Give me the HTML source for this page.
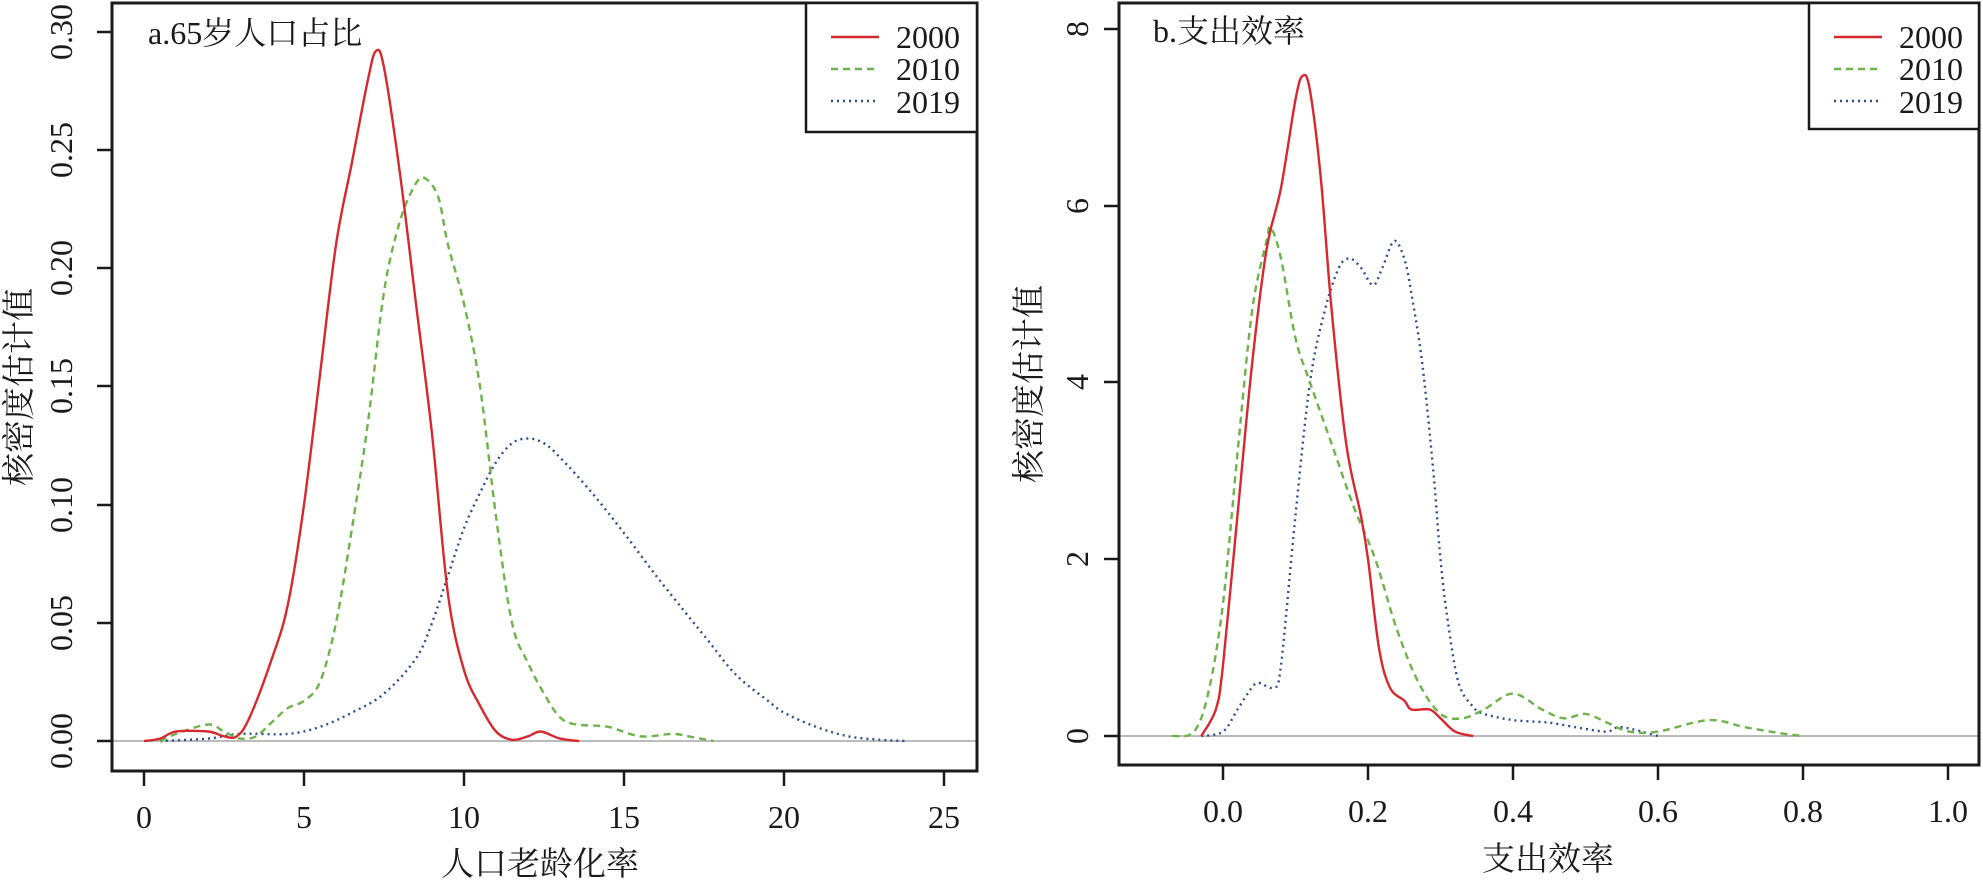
<!DOCTYPE html>
<html><head><meta charset="utf-8"><style>
html,body{margin:0;padding:0;background:#fff;}
svg{display:block;}
text{font-family:"Liberation Serif","Noto Serif CJK SC","Noto Sans CJK SC",serif;fill:#1a1a1a;}
</style></head><body>
<svg id="s" width="1983" height="882" viewBox="0 0 1983 882" xmlns="http://www.w3.org/2000/svg">
<!-- Left panel -->
<line x1="113" y1="741" x2="976" y2="741" stroke="#bbb" stroke-width="2"/>
<g id="L"></g>
<rect x="112" y="3" width="865" height="768" fill="none" stroke="#1a1a1a" stroke-width="3"/>
<rect x="806" y="3" width="171" height="129" fill="#fff" stroke="#1a1a1a" stroke-width="2.5"/>
<line x1="831" y1="37" x2="879" y2="37" stroke="#d7282f" stroke-width="2.4"/>
<line x1="831" y1="69" x2="879" y2="69" stroke="#6db34a" stroke-width="2.4" stroke-dasharray="7,5"/>
<line x1="831" y1="101" x2="879" y2="101" stroke="#2c4f8c" stroke-width="2.4" stroke-dasharray="2,4"/>
<text x="896" y="48" font-size="32">2000</text>
<text x="896" y="80" font-size="32">2010</text>
<text x="896" y="113" font-size="32">2019</text>
<text x="148" y="44" font-size="32">a.65岁人口占比</text>
<g stroke="#1a1a1a" stroke-width="2.5">
<line x1="97" y1="741" x2="112" y2="741"/><line x1="97" y1="623" x2="112" y2="623"/><line x1="97" y1="505" x2="112" y2="505"/><line x1="97" y1="386" x2="112" y2="386"/><line x1="97" y1="268" x2="112" y2="268"/><line x1="97" y1="150" x2="112" y2="150"/><line x1="97" y1="32" x2="112" y2="32"/>
<line x1="144" y1="771" x2="144" y2="786"/><line x1="304" y1="771" x2="304" y2="786"/><line x1="464" y1="771" x2="464" y2="786"/><line x1="624" y1="771" x2="624" y2="786"/><line x1="784" y1="771" x2="784" y2="786"/><line x1="944" y1="771" x2="944" y2="786"/>
</g>
<g font-size="32" text-anchor="middle">
<text transform="translate(72,741) rotate(-90)">0.00</text>
<text transform="translate(72,623) rotate(-90)">0.05</text>
<text transform="translate(72,505) rotate(-90)">0.10</text>
<text transform="translate(72,386) rotate(-90)">0.15</text>
<text transform="translate(72,268) rotate(-90)">0.20</text>
<text transform="translate(72,150) rotate(-90)">0.25</text>
<text transform="translate(72,32) rotate(-90)">0.30</text>
<text x="144" y="828">0</text><text x="304" y="828">5</text><text x="464" y="828">10</text><text x="624" y="828">15</text><text x="784" y="828">20</text><text x="944" y="828">25</text>
</g>
<text x="540" y="875" font-size="33" text-anchor="middle">人口老龄化率</text>
<text transform="translate(30,387) rotate(-90)" font-size="33" text-anchor="middle">核密度估计值</text>

<!-- Right panel -->
<line x1="1120" y1="736" x2="1978" y2="736" stroke="#bbb" stroke-width="2"/>
<g id="R"></g>
<rect x="1119" y="3" width="860" height="762" fill="none" stroke="#1a1a1a" stroke-width="3"/>
<rect x="1809" y="3" width="170" height="126" fill="#fff" stroke="#1a1a1a" stroke-width="2.5"/>
<line x1="1834" y1="37" x2="1882" y2="37" stroke="#d7282f" stroke-width="2.4"/>
<line x1="1834" y1="69" x2="1882" y2="69" stroke="#6db34a" stroke-width="2.4" stroke-dasharray="7,5"/>
<line x1="1834" y1="101" x2="1882" y2="101" stroke="#2c4f8c" stroke-width="2.4" stroke-dasharray="2,4"/>
<text x="1899" y="48" font-size="32">2000</text>
<text x="1899" y="80" font-size="32">2010</text>
<text x="1899" y="113" font-size="32">2019</text>
<text x="1153" y="42" font-size="32">b.支出效率</text>
<g stroke="#1a1a1a" stroke-width="2.5">
<line x1="1104" y1="736" x2="1119" y2="736"/><line x1="1104" y1="559" x2="1119" y2="559"/><line x1="1104" y1="382" x2="1119" y2="382"/><line x1="1104" y1="206" x2="1119" y2="206"/><line x1="1104" y1="29" x2="1119" y2="29"/>
<line x1="1223" y1="765" x2="1223" y2="780"/><line x1="1368" y1="765" x2="1368" y2="780"/><line x1="1513" y1="765" x2="1513" y2="780"/><line x1="1658" y1="765" x2="1658" y2="780"/><line x1="1803" y1="765" x2="1803" y2="780"/><line x1="1948" y1="765" x2="1948" y2="780"/>
</g>
<g font-size="32" text-anchor="middle">
<text transform="translate(1088,736) rotate(-90)">0</text>
<text transform="translate(1088,559) rotate(-90)">2</text>
<text transform="translate(1088,382) rotate(-90)">4</text>
<text transform="translate(1088,206) rotate(-90)">6</text>
<text transform="translate(1088,29) rotate(-90)">8</text>
<text x="1223" y="822">0.0</text><text x="1368" y="822">0.2</text><text x="1513" y="822">0.4</text><text x="1658" y="822">0.6</text><text x="1803" y="822">0.8</text><text x="1948" y="822">1.0</text>
</g>
<text x="1548" y="870" font-size="33" text-anchor="middle">支出效率</text>
<text transform="translate(1040,384) rotate(-90)" font-size="33" text-anchor="middle">核密度估计值</text>
</svg>
<script>
function path(pts,fx,fy){
  var p=pts.map(function(a){return [fx(a[0]),fy(a[1])];});
  var d="M"+p[0][0].toFixed(1)+","+p[0][1].toFixed(1);
  for(var i=0;i<p.length-1;i++){
    var p0=p[i-1]||p[i],p1=p[i],p2=p[i+1],p3=p[i+2]||p2;
    var c1x=p1[0]+(p2[0]-p0[0])/6,c1y=p1[1]+(p2[1]-p0[1])/6;
    var c2x=p2[0]-(p3[0]-p1[0])/6,c2y=p2[1]-(p3[1]-p1[1])/6;
    d+=" C"+c1x.toFixed(1)+","+c1y.toFixed(1)+" "+c2x.toFixed(1)+","+c2y.toFixed(1)+" "+p2[0].toFixed(1)+","+p2[1].toFixed(1);
  }
  return d;
}
var NS="http://www.w3.org/2000/svg";
function add(g,d,col,dash){
  var e=document.createElementNS(NS,"path");
  e.setAttribute("d",d);e.setAttribute("fill","none");e.setAttribute("stroke",col);
  e.setAttribute("stroke-width","2.4");e.setAttribute("stroke-linejoin","round");
  if(dash)e.setAttribute("stroke-dasharray",dash);
  document.getElementById(g).appendChild(e);
}
var lx=function(v){return 144+32*v;},ly=function(d){return 741-2363*d;};
var red=[[0,0],[0.5,0.001],[1,0.004],[2,0.004],[2.5,0.002],[2.9,0.002],[3.3,0.01],[4,0.035],[4.5,0.058],[5,0.1],[5.5,0.155],[6,0.21],[6.5,0.245],[7,0.28],[7.25,0.292],[7.5,0.285],[8,0.24],[8.5,0.185],[9,0.13],[9.5,0.062],[10,0.03],[10.5,0.015],[11,0.004],[11.5,0.0005],[12,0.002],[12.4,0.004],[13,0.001],[13.6,0]];
var green=[[0.5,0],[1,0.003],[2,0.007],[2.5,0.004],[3,0.001],[3.5,0.002],[4,0.008],[4.5,0.014],[5,0.017],[5.5,0.025],[6,0.05],[6.5,0.09],[7,0.135],[7.5,0.19],[8,0.22],[8.5,0.236],[8.8,0.238],[9.2,0.23],[9.5,0.21],[10,0.185],[10.5,0.15],[11,0.095],[11.5,0.05],[12,0.033],[12.5,0.02],[13,0.01],[13.5,0.007],[14.5,0.006],[15.5,0.002],[16.5,0.003],[17,0.002],[17.8,0]];
var blue=[[0.5,0],[2,0.001],[3,0.003],[4.5,0.003],[5.5,0.006],[6.5,0.012],[7.5,0.02],[8.5,0.035],[9,0.05],[9.5,0.07],[10,0.09],[10.5,0.105],[11,0.118],[11.5,0.126],[12,0.128],[12.5,0.126],[13,0.12],[14,0.105],[15,0.088],[16,0.07],[17,0.053],[17.6,0.043],[18.5,0.028],[19.5,0.017],[20,0.012],[21,0.006],[22,0.002],[23,0.0005],[23.8,0]];
add("L",path(blue,lx,ly),"#2c4f8c","2,4");
add("L",path(green,lx,ly),"#6db34a","7,5");
add("L",path(red,lx,ly),"#d7282f");
var rx=function(v){return 1223+725*v;},ry=function(d){return 736-88.4*d;};
var r2=[[-0.03,0],[-0.01,0.3],[0,0.8],[0.02,2.5],[0.04,4.2],[0.06,5.5],[0.08,6.2],[0.1,7.2],[0.11,7.47],[0.12,7.3],[0.135,6.3],[0.15,4.8],[0.17,3.3],[0.19,2.5],[0.2,2.0],[0.215,1.0],[0.23,0.55],[0.25,0.4],[0.26,0.3],[0.285,0.3],[0.3,0.2],[0.32,0.05],[0.345,0]];
var g2=[[-0.07,0],[-0.04,0.05],[-0.02,0.5],[0,1.5],[0.02,3.2],[0.04,4.8],[0.06,5.6],[0.066,5.75],[0.08,5.4],[0.1,4.5],[0.12,4.0],[0.15,3.3],[0.18,2.6],[0.21,2.0],[0.24,1.2],[0.27,0.6],[0.3,0.25],[0.33,0.2],[0.36,0.3],[0.4,0.48],[0.44,0.3],[0.47,0.2],[0.5,0.25],[0.53,0.15],[0.56,0.05],[0.6,0.05],[0.67,0.18],[0.72,0.1],[0.77,0.03],[0.8,0]];
var b2=[[-0.03,0],[0,0.05],[0.02,0.3],[0.04,0.55],[0.05,0.6],[0.07,0.55],[0.08,0.8],[0.1,2.5],[0.12,4.0],[0.14,4.8],[0.16,5.3],[0.175,5.4],[0.19,5.3],[0.207,5.1],[0.22,5.3],[0.236,5.6],[0.25,5.4],[0.26,5.0],[0.275,4.2],[0.29,3],[0.3,2],[0.31,1.3],[0.325,0.6],[0.345,0.33],[0.36,0.25],[0.4,0.18],[0.45,0.15],[0.5,0.08],[0.53,0.05],[0.55,0.1],[0.6,0]];
add("R",path(b2,rx,ry),"#2c4f8c","2,4");
add("R",path(g2,rx,ry),"#6db34a","7,5");
add("R",path(r2,rx,ry),"#d7282f");
</script>
</body></html>
